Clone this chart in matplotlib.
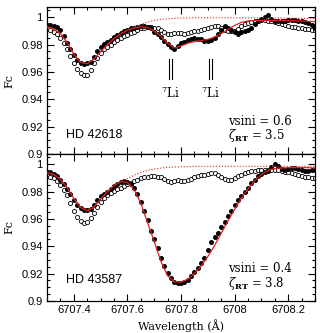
import numpy as np
import matplotlib
matplotlib.use("Agg")
import matplotlib.pyplot as plt
from matplotlib.ticker import MultipleLocator, FixedLocator

# ---------------- data ----------------
wl_obs = np.linspace(6707.30, 6708.30, 81)     # observed sampling (0.0125 A)
wl_syn = np.linspace(6707.30, 6708.30, 41)     # synthesis sampling (0.025 A)

# Top panel: HD 42618
top_star = [0.9940, 0.9942, 0.9938, 0.9930, 0.9905, 0.9860, 0.9815, 0.9765, 0.9725, 0.9690,
            0.9665, 0.9660, 0.9668, 0.9672, 0.9710, 0.9750, 0.9780, 0.9805, 0.9820, 0.9835,
            0.9855, 0.9870, 0.9885, 0.9898, 0.9910, 0.9918, 0.9925, 0.9932, 0.9936, 0.9935,
            0.9930, 0.9918, 0.9895, 0.9875, 0.9855, 0.9830, 0.9805, 0.9782, 0.9770, 0.9790,
            0.9810, 0.9822, 0.9835, 0.9842, 0.9845, 0.9842, 0.9838, 0.9830, 0.9825, 0.9832,
            0.9845, 0.9875, 0.9905, 0.9935, 0.9925, 0.9905, 0.9895, 0.9880, 0.9890, 0.9898,
            0.9905, 0.9920, 0.9950, 0.9970, 0.9985, 1.0005, 1.0015, 0.9985, 0.9972, 0.9975,
            0.9976, 0.9975, 0.9977, 0.9980, 0.9978, 0.9975, 0.9972, 0.9965, 0.9955, 0.9940,
            0.9925]
top_ref = [0.9912, 0.9905, 0.9893, 0.9880, 0.9850, 0.9815, 0.9770, 0.9715, 0.9665, 0.9625,
           0.9590, 0.9575, 0.9578, 0.9615, 0.9665, 0.9705, 0.9740, 0.9765, 0.9785, 0.9800,
           0.9818, 0.9832, 0.9845, 0.9860, 0.9872, 0.9885, 0.9895, 0.9908, 0.9918, 0.9925,
           0.9928, 0.9926, 0.9922, 0.9918, 0.9905, 0.9892, 0.9880, 0.9876, 0.9882, 0.9888,
           0.9885, 0.9880, 0.9885, 0.9892, 0.9898, 0.9903, 0.9908, 0.9913, 0.9920, 0.9928,
           0.9935, 0.9935, 0.9920, 0.9905, 0.9900, 0.9898, 0.9902, 0.9915, 0.9935, 0.9950,
           0.9960, 0.9968, 0.9972, 0.9975, 0.9977, 0.9977, 0.9975, 0.9970, 0.9965, 0.9960,
           0.9950, 0.9940, 0.9935, 0.9930, 0.9927, 0.9922, 0.9918, 0.9915, 0.9912, 0.9910,
           0.9908]
top_syn = [0.9930, 0.9915, 0.9880, 0.9815, 0.9730, 0.9670, 0.9660, 0.9695, 0.9750, 0.9800,
           0.9845, 0.9880, 0.9905, 0.9922, 0.9930, 0.9925, 0.9900, 0.9860, 0.9810, 0.9775,
           0.9790, 0.9810, 0.9822, 0.9830, 0.9838, 0.9855, 0.9880, 0.9910, 0.9940, 0.9962,
           0.9973, 0.9976, 0.9977, 0.9977, 0.9976, 0.9976, 0.9975, 0.9974, 0.9972, 0.9970,
           0.9968]
top_noli = [0.9930, 0.9915, 0.9880, 0.9815, 0.9730, 0.9670, 0.9660, 0.9695, 0.9750, 0.9800,
            0.9845, 0.9880, 0.9905, 0.9925, 0.9948, 0.9965, 0.9976, 0.9984, 0.9989, 0.9992,
            0.9994, 0.9995, 0.9996, 0.9996, 0.9996, 0.9996, 0.9996, 0.9996, 0.9996, 0.9996,
            0.9996, 0.9996, 0.9996, 0.9995, 0.9995, 0.9995, 0.9994, 0.9993, 0.9992, 0.9991,
            0.9990]

# Bottom panel: HD 43587
bot_star = [0.9945, 0.9940, 0.9930, 0.9915, 0.9885, 0.9852, 0.9818, 0.9780, 0.9740, 0.9705,
            0.9680, 0.9668, 0.9668, 0.9675, 0.9705, 0.9735, 0.9765, 0.9785, 0.9800, 0.9820,
            0.9838, 0.9855, 0.9870, 0.9878, 0.9870, 0.9852, 0.9825, 0.9780, 0.9725, 0.9660,
            0.9590, 0.9515, 0.9455, 0.9385, 0.9315, 0.9255, 0.9205, 0.9165, 0.9140, 0.9128,
            0.9132, 0.9140, 0.9152, 0.9180, 0.9210, 0.9240, 0.9275, 0.9315, 0.9370, 0.9430,
            0.9465, 0.9500, 0.9540, 0.9580, 0.9620, 0.9660, 0.9700, 0.9738, 0.9770, 0.9800,
            0.9830, 0.9860, 0.9885, 0.9912, 0.9930, 0.9942, 0.9950, 0.9980, 1.0005, 0.9990,
            0.9965, 0.9960, 0.9968, 0.9972, 0.9973, 0.9968, 0.9960, 0.9952, 0.9948, 0.9955,
            0.9960]
bot_ref = [0.9918, 0.9910, 0.9898, 0.9880, 0.9850, 0.9815, 0.9775, 0.9720, 0.9660, 0.9615,
           0.9585, 0.9573, 0.9578, 0.9605, 0.9645, 0.9690, 0.9725, 0.9752, 0.9772, 0.9790,
           0.9805, 0.9818, 0.9830, 0.9843, 0.9855, 0.9865, 0.9875, 0.9888, 0.9898, 0.9905,
           0.9910, 0.9912, 0.9912, 0.9910, 0.9905, 0.9892, 0.9880, 0.9872, 0.9875, 0.9882,
           0.9880, 0.9875, 0.9882, 0.9895, 0.9905, 0.9912, 0.9918, 0.9925, 0.9932, 0.9936,
           0.9935, 0.9925, 0.9910, 0.9895, 0.9885, 0.9888, 0.9898, 0.9912, 0.9925, 0.9935,
           0.9942, 0.9948, 0.9952, 0.9956, 0.9958, 0.9958, 0.9957, 0.9957, 0.9957, 0.9955,
           0.9950, 0.9945, 0.9940, 0.9935, 0.9928, 0.9922, 0.9915, 0.9910, 0.9905, 0.9902,
           0.9900]
bot_syn = [0.9940, 0.9925, 0.9890, 0.9830, 0.9750, 0.9685, 0.9660, 0.9685, 0.9745, 0.9800,
           0.9845, 0.9872, 0.9868, 0.9815, 0.9715, 0.9575, 0.9435, 0.9290, 0.9185, 0.9140,
           0.9138, 0.9160, 0.9200, 0.9255, 0.9325, 0.9405, 0.9495, 0.9585, 0.9670, 0.9750,
           0.9820, 0.9880, 0.9925, 0.9955, 0.9968, 0.9972, 0.9975, 0.9976, 0.9976, 0.9975,
           0.9973]
bot_noli = [0.9940, 0.9925, 0.9890, 0.9830, 0.9750, 0.9685, 0.9660, 0.9685, 0.9745, 0.9800,
            0.9845, 0.9872, 0.9895, 0.9920, 0.9940, 0.9955, 0.9965, 0.9972, 0.9977, 0.9980,
            0.9982, 0.9983, 0.9984, 0.9985, 0.9985, 0.9985, 0.9985, 0.9985, 0.9985, 0.9985,
            0.9985, 0.9985, 0.9985, 0.9985, 0.9985, 0.9985, 0.9985, 0.9985, 0.9985, 0.9985,
            0.9985]

li_lines = [6707.76, 6707.91]
star_names = ["HD 42618", "HD 43587"]
vsini_vals = ["0.6", "0.4"]
zeta_vals = ["3.5", "3.8"]
xticks = [6707.4, 6707.6, 6707.8, 6708.0, 6708.2]
xticklabels = ["6707.4", "6707.6", "6707.8", "6708", "6708.2"]
yticks = [0.9, 0.92, 0.94, 0.96, 0.98, 1.0]
yticklabels = ["0.9", "0.92", "0.94", "0.96", "0.98", "1"]

# ---------------- figure ----------------
plt.rcParams['font.family'] = ['Liberation Sans', 'DejaVu Sans']
plt.rcParams['mathtext.fontset'] = 'dejavuserif'
fig = plt.figure(figsize=(3.20, 3.33), dpi=100)
L, R = 47 / 320, 315 / 320
ax_top = fig.add_axes([L, 1 - 154 / 333, R - L, 147 / 333])
ax_bot = fig.add_axes([L, 1 - 301 / 333, R - L, 147 / 333])

serif = ['DejaVu Serif']
red = '#dd2222'
panels = [
    (ax_top, top_star, top_ref, top_syn, top_noli),
    (ax_bot, bot_star, bot_ref, bot_syn, bot_noli),
]
for k, (ax, star, ref, syn, noli) in enumerate(panels):
    ax.plot(wl_obs, ref, 'o', ms=3.0, mfc='white', mec='black', mew=0.6, zorder=2)
    ax.plot(wl_obs, star, 'o', ms=3.6, mfc='black', mec='black', mew=0, zorder=3)
    ax.plot(wl_syn, noli, ':', color=red, lw=0.8, zorder=4)
    ax.plot(wl_syn, syn, '-', color=red, lw=0.9, zorder=5)

    ax.set_xlim(6707.3, 6708.3)
    ax.set_ylim(0.9, 1.0075)
    ax.xaxis.set_major_locator(FixedLocator(xticks))
    ax.xaxis.set_minor_locator(MultipleLocator(0.05))
    ax.yaxis.set_major_locator(FixedLocator(yticks))
    ax.yaxis.set_minor_locator(MultipleLocator(0.005))
    ax.set_yticklabels(yticklabels)
    ax.tick_params(which='both', direction='in', top=True, right=True, width=0.8,
                   labelsize=8, pad=3)
    ax.tick_params(which='major', length=5)
    ax.tick_params(which='minor', length=2.5)
    for s in ax.spines.values():
        s.set_linewidth(0.9)
    ax.set_ylabel('Fc', family=serif, fontsize=8, labelpad=5)

    ax.text(0.071, 0.13 if k == 0 else 0.143, star_names[k], transform=ax.transAxes,
            fontsize=9, va='center', ha='left')
    ax.text(0.675, 0.218, 'vsini = ' + vsini_vals[k], transform=ax.transAxes,
            fontsize=8.5, va='center', ha='left', family=serif)
    ax.text(0.675, 0.125 if k == 0 else 0.118, r'$\zeta_{\mathbf{RT}}$ = ' + zeta_vals[k],
            transform=ax.transAxes, fontsize=8.5, va='center', ha='left', family=serif)

ax_top.tick_params(labelbottom=False)
ax_bot.set_xticklabels(xticklabels)
ax_bot.set_xlabel('Wavelength (Å)', family=serif, fontsize=8, labelpad=3)

for lam in li_lines:
    for d in (-0.0055, 0.0055):
        ax_top.plot([lam + d, lam + d], [0.9548, 0.9698], color='black', lw=0.8)
    ax_top.text(lam, 0.9444, r'$^{7}$Li', ha='center', va='center', fontsize=8.5,
                family=serif)

fig.savefig('out.png', dpi=100)
